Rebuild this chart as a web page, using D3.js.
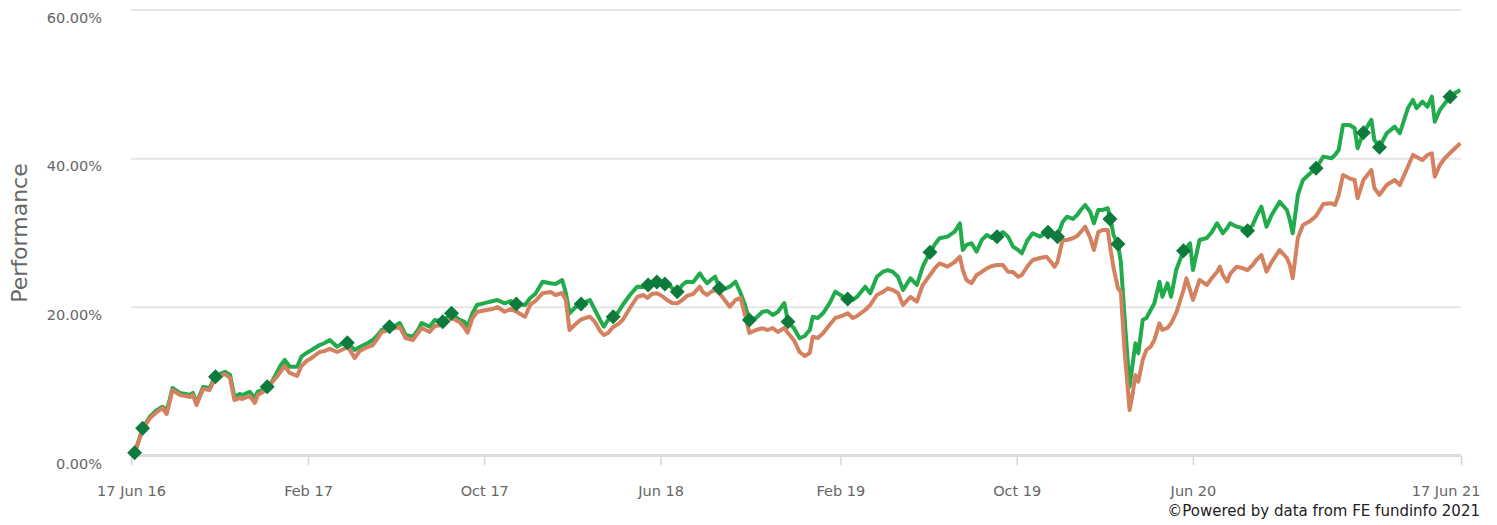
<!DOCTYPE html>
<html>
<head>
<meta charset="utf-8">
<script src="https://cdn.jsdelivr.net/npm/d3@7"></script>
<style>
  body { margin: 0; background: #fff; }
  svg { display: block; font-family: "DejaVu Sans", Verdana, sans-serif; }
</style>
</head>
<body>
<svg id="chart"></svg>
<script>
// dates (roughly every 1-2 weeks)
const dates = [
  "2016-06-22","2016-07-03","2016-07-13","2016-07-21","2016-07-30","2016-08-05","2016-08-09","2016-08-13","2016-08-23","2016-08-31",
  "2016-09-06","2016-09-10","2016-09-15","2016-09-24","2016-10-03","2016-10-10","2016-10-17","2016-10-24","2016-10-31","2016-11-06",
  "2016-11-13","2016-11-17","2016-11-27","2016-12-04","2016-12-08","2016-12-15","2016-12-22","2016-12-28","2017-01-03","2017-01-08",
  "2017-01-14","2017-01-21","2017-01-31","2017-02-06","2017-02-13","2017-02-20","2017-03-03","2017-03-10","2017-03-17","2017-03-27",
  "2017-04-02","2017-04-11","2017-04-20","2017-04-27","2017-05-08","2017-05-15","2017-05-22","2017-05-27","2017-06-07","2017-06-14",
  "2017-06-21","2017-06-29","2017-07-09","2017-07-16","2017-07-21","2017-08-01","2017-08-08","2017-08-19","2017-08-31","2017-09-11",
  "2017-09-18","2017-09-22","2017-09-29","2017-10-05","2017-10-18","2017-10-27","2017-11-02","2017-11-12","2017-11-20","2017-11-29",
  "2017-12-10","2017-12-17","2017-12-24","2018-01-03","2018-01-14","2018-01-21","2018-01-30","2018-02-04","2018-02-09","2018-02-16",
  "2018-02-24","2018-03-03","2018-03-09","2018-03-16","2018-03-23","2018-03-28","2018-04-03","2018-04-10","2018-04-17","2018-04-23",
  "2018-05-03","2018-05-13","2018-05-21","2018-05-27","2018-06-02","2018-06-09","2018-06-16","2018-06-23","2018-06-30","2018-07-07",
  "2018-07-14","2018-07-20","2018-07-29","2018-08-07","2018-08-11","2018-08-17","2018-08-22","2018-08-28","2018-09-03","2018-09-10",
  "2018-09-17","2018-09-25","2018-10-02","2018-10-08","2018-10-14","2018-10-23","2018-11-01","2018-11-08","2018-11-15","2018-11-22",
  "2018-12-01","2018-12-06","2018-12-14","2018-12-22","2018-12-29","2019-01-05","2019-01-09","2019-01-16","2019-01-23","2019-02-01",
  "2019-02-09","2019-02-18","2019-02-26","2019-03-05","2019-03-11","2019-03-22","2019-03-29","2019-04-07","2019-04-15","2019-04-22",
  "2019-04-29","2019-05-06","2019-05-13","2019-05-23","2019-06-01","2019-06-09","2019-06-19","2019-06-26","2019-07-02","2019-07-13",
  "2019-07-23","2019-07-30","2019-08-03","2019-08-08","2019-08-15","2019-08-22","2019-08-29","2019-09-05","2019-09-12","2019-09-19",
  "2019-09-27","2019-10-04","2019-10-11","2019-10-18","2019-10-23","2019-10-31","2019-11-07","2019-11-17","2019-11-26","2019-12-02",
  "2019-12-07","2019-12-11","2019-12-18","2019-12-24","2020-01-01","2020-01-07","2020-01-12","2020-01-18","2020-01-25","2020-01-30",
  "2020-02-05","2020-02-11","2020-02-18","2020-02-22","2020-02-26","2020-03-03","2020-03-07","2020-03-12","2020-03-19","2020-03-23",
  "2020-03-27","2020-03-31","2020-04-06","2020-04-11","2020-04-17","2020-04-22","2020-04-29","2020-05-03","2020-05-10","2020-05-15",
  "2020-05-22","2020-06-01","2020-06-05","2020-06-10","2020-06-14","2020-06-23","2020-07-03","2020-07-10","2020-07-17","2020-07-21",
  "2020-07-25","2020-07-31","2020-08-04","2020-08-13","2020-08-20","2020-08-28","2020-09-04","2020-09-09","2020-09-16","2020-09-23",
  "2020-09-30","2020-10-11","2020-10-21","2020-10-25","2020-10-29","2020-11-05","2020-11-12","2020-11-22","2020-11-30","2020-12-10",
  "2020-12-21","2020-12-26","2020-12-31","2021-01-06","2021-01-15","2021-01-22","2021-01-26","2021-02-03","2021-02-14","2021-02-18",
  "2021-02-25","2021-03-07","2021-03-18","2021-03-25","2021-04-05","2021-04-12","2021-04-17","2021-04-25","2021-05-02","2021-05-08",
  "2021-05-12","2021-05-19","2021-05-26","2021-06-02","2021-06-09","2021-06-16"
];

// fund (green), % growth
const fundValues = [
  0.44,3.73,5.29,6.05,6.63,6.19,7.53,9.15,8.48,8.34,
  8.21,8.48,7.13,9.28,9.15,10.63,11.03,11.34,10.9,7.98,
  8.34,8.21,8.65,7.8,8.65,8.88,9.28,10.09,11.17,12.11,
  12.92,12.01,12.01,13.36,13.86,14.26,14.93,15.2,15.61,14.71,
  15.07,15.2,14.26,14.66,15.2,15.61,16.28,16.95,17.36,17.49,
  17.89,16.28,16.05,16.95,17.89,17.4,18.3,18.07,19.2,18.3,
  18.03,17.4,19.24,20.32,20.63,20.85,20.99,20.54,20.85,20.45,
  20.32,21.26,21.8,23.45,23.24,23.14,23.68,21.93,19.2,19.91,
  20.45,20.72,20.99,19.64,18.3,17.4,18.3,18.74,19.37,20.32,
  21.66,22.78,22.74,23.24,23.41,23.68,23.41,23.24,22.6,22.11,
  23.01,23.45,23.41,24.58,23.95,23.24,23.68,24.12,22.56,22.47,
  22.78,23.45,21.89,20.32,18.3,18.57,19.41,19.51,18.97,19.37,
  20.58,18.07,17.22,15.84,16.14,16.95,18.74,18.57,19.2,20.54,
  22.11,21.53,21.12,20.99,21.43,22.78,21.89,24.12,24.76,25.02,
  24.76,24.12,22.33,23.91,23.01,25.47,27.41,28.52,29.29,29.51,
  30.18,31.31,27.71,28.39,28.62,27.49,29.06,29.73,29.33,29.51,
  30.14,29.51,28.16,27.71,27.27,29.06,29.96,29.51,30.1,29.87,
  29.6,29.51,31.48,32.19,31.89,32.42,33.1,33.77,32.83,31.31,
  33.1,33.1,33.33,31.75,29.73,28.52,26.1,18.74,9.32,12.24,
  15.16,13.82,18.3,18.57,19.64,20.54,23.45,21.43,23.24,21.43,
  25.02,27.62,27.98,28.62,25.02,29.06,29.33,30.14,31.31,30.68,
  29.96,30.68,31.31,30.85,30.68,30.31,31.08,32.2,33.54,30.85,
  32.42,34.21,33.1,31.75,29.96,35.12,37.14,38.04,38.71,40.27,
  40.05,40.5,41.17,44.53,44.53,44.09,41.4,43.5,45.21,42.52,
  41.53,43.42,44.31,43.42,46.78,47.9,46.78,47.67,46.99,48.34,
  44.98,46.55,47.45,48.34,48.84,49.24
];

// sector average (orange), % growth
const sectorValues = [
  0.44,3.5,5.11,5.79,6.46,5.65,7.27,8.88,8.21,8.07,
  7.94,8.21,6.86,9.01,8.88,10.36,10.76,11.03,10.49,7.53,
  7.8,7.67,8.07,7.13,8.21,8.61,9.01,9.96,10.63,11.3,
  12.11,11.17,10.76,12.11,12.78,13.19,13.99,14.13,14.4,13.99,
  14.26,14.66,13.19,14.13,14.66,14.93,15.88,16.68,16.95,17.22,
  17.36,15.88,15.61,16.55,17.22,16.68,17.49,17.62,18.57,18.03,
  17.22,16.59,18.57,19.37,19.64,19.78,20.05,19.41,19.78,19.37,
  18.74,20.32,20.85,21.89,22.06,21.66,21.93,20.99,16.95,17.62,
  18.3,18.57,18.74,18.03,16.82,16.28,16.55,17.36,17.76,18.3,
  19.91,21.39,21.66,21.26,21.8,21.89,21.53,20.99,20.58,20.54,
  20.99,21.53,21.8,22.78,22.06,21.66,22.06,22.33,21.89,20.99,
  20.09,20.99,21.26,18.97,16.55,16.95,17.18,16.95,17.22,16.68,
  17.22,16.55,15.61,13.99,13.45,13.86,16.05,15.88,16.51,17.62,
  18.57,18.84,19.2,18.57,18.84,19.64,20.32,21.66,22.06,22.56,
  22.33,21.93,20.32,21.39,20.76,23.01,24.35,25.29,25.93,25.47,
  26.1,26.81,25.02,23.68,23.24,24.35,24.76,25.25,25.56,25.7,
  25.7,24.8,24.76,24.12,24.35,25.56,26.37,26.64,26.81,26.1,
  25.47,26.1,29.06,29.06,29.29,29.6,30.14,30.85,29.33,27.71,
  30.14,30.41,30.41,27.71,25.29,22.6,22.06,14.26,6.19,8.21,
  10.9,10.0,12.92,14.26,14.71,15.61,17.85,16.95,17.22,17.85,
  19.24,22.33,23.91,22.33,20.99,23.68,23.01,23.95,24.76,25.47,
  24.35,23.45,24.49,25.47,25.29,25.02,25.7,26.37,27.04,24.8,
  26.1,27.71,26.64,25.7,23.91,29.33,31.08,31.62,32.29,33.9,
  34.0,33.77,35.11,37.8,37.36,37.13,34.67,37.13,38.48,36.06,
  35.12,36.46,37.13,36.46,38.92,40.5,40.23,39.82,40.5,40.73,
  37.58,39.15,40.09,40.76,41.44,42.07
];

// diamond markers on the fund line
const markerDates = [
  "2016-06-22","2016-07-03","2016-10-11","2016-12-21","2017-04-10","2017-06-07","2017-08-19","2017-08-31",
  "2017-11-28","2018-02-25","2018-04-10","2018-05-28","2018-06-09","2018-06-20","2018-07-07","2018-09-03",
  "2018-10-14","2018-12-06","2019-02-26","2019-06-19","2019-09-19","2019-11-28","2019-12-11","2020-02-21",
  "2020-03-03","2020-06-01","2020-08-28","2020-11-30","2021-02-03","2021-02-25","2021-06-02"
];
const markerValues = [
  0.44,3.73,10.66,9.32,15.24,17.4,18.07,19.2,
  20.45,20.45,18.74,23.0,23.41,23.14,22.11,22.56,
  18.3,18.07,21.12,27.41,29.51,30.1,29.51,31.89,
  28.52,27.62,30.31,38.71,43.5,41.53,48.34
];

const yTicks = [0, 20, 40, 60];
const xTickDates = ["2016-06-17","2017-02-15","2017-10-15","2018-06-14","2019-02-16","2019-10-16","2020-06-14","2021-06-17"];
const xTickLabels = ["17 Jun 16","Feb 17","Oct 17","Jun 18","Feb 19","Oct 19","Jun 20","17 Jun 21"];

const W = 1497, H = 525;
const margin = { top: 10, right: 36, bottom: 69, left: 131 };
const parse = d3.timeParse("%Y-%m-%d");

const fund = dates.map((d, i) => ({ date: parse(d), value: fundValues[i] }));
const sector = dates.map((d, i) => ({ date: parse(d), value: sectorValues[i] }));
const markers = markerDates.map((d, i) => ({ date: parse(d), value: markerValues[i] }));

const svg = d3.select("#chart").attr("width", W).attr("height", H);

const x = d3.scaleTime()
  .domain([parse("2016-06-17"), parse("2021-06-17")])
  .range([margin.left, W - margin.right]);

const y = d3.scaleLinear()
  .domain([0, 60])
  .range([H - margin.bottom, margin.top]);

// grid lines
svg.append("g")
  .selectAll("line")
  .data(yTicks.filter(d => d > 0))
  .enter()
  .append("line")
  .attr("x1", x.range()[0])
  .attr("x2", x.range()[1])
  .attr("y1", d => y(d))
  .attr("y2", d => y(d))
  .attr("stroke", "#e6e6e6")
  .attr("stroke-width", 2);

// y labels
svg.append("g")
  .attr("transform", `translate(${margin.left},0)`)
  .call(d3.axisLeft(y).tickValues(yTicks).tickSize(0).tickPadding(29).tickFormat(d => d.toFixed(2) + "%"))
  .call(g => g.select(".domain").remove())
  .call(g => g.selectAll("text")
    .attr("dy", "0.85em")
    .attr("fill", "#666")
    .style("font-size", "14.5px")
    .style("font-family", "DejaVu Sans, Verdana, sans-serif"));

// x axis
const xAxis = svg.append("g")
  .attr("transform", `translate(0,${y(0)})`)
  .call(d3.axisBottom(x)
    .tickValues(xTickDates.map(parse))
    .tickFormat((d, i) => xTickLabels[i])
    .tickSize(9));
xAxis.select(".domain").remove();
xAxis.selectAll(".tick line").attr("stroke", "#ccd6eb").attr("stroke-width", 1.5);
xAxis.selectAll(".tick text")
  .attr("y", 40)
  .attr("dy", 0)
  .attr("fill", "#666")
  .style("font-size", "14.5px")
  .style("font-family", "DejaVu Sans, Verdana, sans-serif");
// keep the last label inside the chart
xAxis.selectAll(".tick text").filter((d, i, n) => i === n.length - 1)
  .attr("text-anchor", "end")
  .attr("x", W - 17 - x(parse(xTickDates[xTickDates.length - 1])));

// baseline
svg.append("line")
  .attr("x1", x.range()[0])
  .attr("x2", x.range()[1])
  .attr("y1", y(0) - 0.5)
  .attr("y2", y(0) - 0.5)
  .attr("stroke", "#dcdcdc")
  .attr("stroke-width", 3);

// y title
svg.append("text")
  .attr("transform", `translate(27,${(y(0) + y(60)) / 2}) rotate(-90)`)
  .attr("text-anchor", "middle")
  .attr("fill", "#666")
  .style("font-size", "22px")
  .text("Performance");

const line = d3.line()
  .x(d => x(d.date))
  .y(d => y(d.value));

svg.append("path")
  .datum(fund)
  .attr("fill", "none")
  .attr("stroke", "#22ab4c")
  .attr("stroke-width", 4)
  .attr("stroke-linejoin", "round")
  .attr("d", line);

svg.append("path")
  .datum(sector)
  .attr("fill", "none")
  .attr("stroke", "#d4815f")
  .attr("stroke-width", 4)
  .attr("stroke-linejoin", "round")
  .attr("d", line);

// markers
svg.append("g")
  .selectAll("path")
  .data(markers)
  .enter()
  .append("path")
  .attr("transform", d => `translate(${x(d.date)},${y(d.value)})`)
  .attr("d", "M0,-7.5L7.5,0L0,7.5L-7.5,0Z")
  .attr("fill", "#0e7a3b");

// credits
svg.append("text")
  .attr("x", W - 17)
  .attr("y", 516)
  .attr("text-anchor", "end")
  .attr("fill", "#222")
  .style("font-size", "15px")
  .text("©Powered by data from FE fundinfo 2021");
</script>
</body>
</html>
